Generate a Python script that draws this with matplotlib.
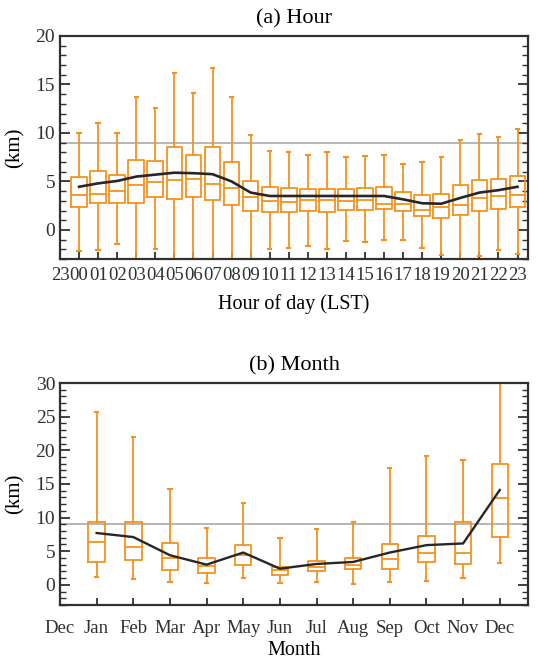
import matplotlib
matplotlib.use("Agg")
import matplotlib.pyplot as plt
from matplotlib.ticker import MultipleLocator
import numpy as np

plt.rcParams['font.family'] = ['Liberation Serif', 'DejaVu Serif']

# hourly stats (km)
hour_labels = ['23'] + ['%02d' % h for h in range(24)]
hour_whishi = [10.0, 11.0, 10.0, 13.7, 12.6, 16.2, 14.1, 16.7, 13.7, 9.8, 8.1, 8.0,
               7.7, 8.0, 7.5, 7.6, 7.7, 6.8, 7.0, 7.5, 9.3, 9.9, 9.6, 10.4]
hour_q3 = [5.5, 6.1, 5.7, 7.2, 7.1, 8.5, 7.7, 8.5, 7.0, 5.0, 4.4, 4.3,
           4.2, 4.2, 4.2, 4.3, 4.4, 3.9, 3.6, 3.7, 4.6, 5.1, 5.2, 5.6]
hour_med = [3.6, 3.7, 4.0, 4.6, 4.9, 5.1, 5.2, 4.7, 4.3, 3.4, 3.0, 2.9,
            3.1, 3.1, 3.0, 3.1, 2.7, 2.7, 2.1, 2.4, 2.6, 3.3, 3.5, 3.6]
hour_q1 = [2.4, 2.8, 2.8, 2.8, 3.4, 3.2, 3.4, 3.1, 2.6, 1.9, 1.8, 1.8,
           1.9, 1.8, 2.1, 2.1, 2.2, 1.9, 1.4, 1.2, 1.5, 2.0, 2.2, 2.4]
hour_whislo = [-2.2, -2.1, -1.5, -3.5, -2.0, -3.5, -3.0, -3.5, -3.5, -3.2, -2.0, -1.9,
               -1.7, -2.0, -1.1, -1.2, -1.0, -1.0, -1.9, -2.6, -3.5, -2.7, -2.1, -2.5]
hour_mean = [4.45, 4.8, 5.05, 5.5, 5.7, 5.9, 5.85, 5.75, 5.0, 3.85, 3.5, 3.5,
             3.5, 3.5, 3.5, 3.5, 3.5, 3.15, 2.75, 2.7, 3.3, 3.85, 4.1, 4.45]

# monthly stats (km)
month_labels = ['Dec', 'Jan', 'Feb', 'Mar', 'Apr', 'May', 'Jun', 'Jul', 'Aug',
                'Sep', 'Oct', 'Nov', 'Dec']
month_whishi = [25.7, 21.9, 14.3, 8.4, 12.1, 6.9, 8.3, 9.3, 17.3, 19.1, 18.6, 31.5]
month_q3 = [9.4, 9.3, 6.2, 4.0, 5.9, 2.7, 3.6, 4.0, 6.1, 7.3, 9.4, 18.0]
month_med = [6.4, 5.6, 4.0, 2.8, 4.4, 2.2, 2.7, 3.0, 3.9, 4.7, 4.7, 12.9]
month_q1 = [3.4, 3.7, 2.2, 1.8, 2.9, 1.5, 2.0, 2.3, 2.3, 3.4, 3.1, 7.1]
month_whislo = [1.1, 0.8, 0.45, 0.3, 1.0, 0.2, 0.35, 0.1, 0.45, 0.6, 1.0, 3.2]
month_mean = [7.7, 7.1, 4.4, 3.0, 4.8, 2.4, 3.1, 3.4, 4.8, 5.9, 6.15, 14.1]

orange = '#f5921e'
dark = '#262626'


def stats(lo, q1, med, q3, hi):
    return [dict(whislo=a, q1=b, med=c, q3=d, whishi=e, fliers=[])
            for a, b, c, d, e in zip(lo, q1, med, q3, hi)]


def style_axis(ax, xpad):
    for s in ax.spines.values():
        s.set_linewidth(1.6)
        s.set_color('#303030')
    ax.tick_params(axis='y', which='both', direction='in', left=True, right=True,
                   labelsize=14, colors='#303030', labelcolor='#303030')
    ax.tick_params(axis='y', which='major', length=7, width=1.3)
    ax.tick_params(axis='y', which='minor', length=4, width=1.0)
    ax.tick_params(axis='x', which='major', direction='in', length=5, width=1.3,
                   top=False, labelsize=13.5, pad=xpad, colors='#303030',
                   labelcolor='#303030')
    ax.yaxis.set_minor_locator(MultipleLocator(1))


fig = plt.figure(figsize=(5.38, 6.6), dpi=100)

box_kw = dict(patch_artist=False, showfliers=False, manage_ticks=False,
              boxprops=dict(color=orange, linewidth=1.3),
              whiskerprops=dict(color=orange, linewidth=1.3),
              capprops=dict(color=orange, linewidth=1.5),
              medianprops=dict(color=orange, linewidth=1.3))

# (a) Hour
ax1 = fig.add_axes([60 / 538, 1 - 259 / 660, 468 / 538, 223 / 660])
xh = np.arange(24)
ax1.axhline(9, color='#b0b0b0', linewidth=1.3, zorder=1)
ax1.bxp(stats(hour_whislo, hour_q1, hour_med, hour_q3, hour_whishi),
        positions=xh, widths=0.82, capwidths=0.18, **box_kw)
ax1.plot(xh, hour_mean, color=dark, linewidth=1.9, zorder=5)
ax1.set_xlim(-1, 23.55)
ax1.set_ylim(-3, 20)
ax1.set_xticks(np.arange(-1, 24))
ax1.set_xticklabels(hour_labels)
ax1.yaxis.set_major_locator(MultipleLocator(5))
style_axis(ax1, 6)
ax1.set_title('(a) Hour', fontsize=16, pad=9)
ax1.set_xlabel('Hour of day (LST)', fontsize=14.5, labelpad=7)
ax1.set_ylabel('(km)', fontsize=15, labelpad=8)

# (b) Month
ax2 = fig.add_axes([60 / 538, 1 - 605 / 660, 468 / 538, 222 / 660])
xm = np.arange(1, 13)
ax2.axhline(9, color='#b0b0b0', linewidth=1.3, zorder=1)
ax2.bxp(stats(month_whislo, month_q1, month_med, month_q3, month_whishi),
        positions=xm, widths=0.45, capwidths=0.09, **box_kw)
ax2.plot(xm, month_mean, color=dark, linewidth=1.7, zorder=5)
ax2.set_xlim(0, 12.77)
ax2.set_ylim(-3, 30)
ax2.set_xticks(np.arange(0, 13))
ax2.set_xticklabels(month_labels)
ax2.yaxis.set_major_locator(MultipleLocator(5))
style_axis(ax2, 11)
ax2.set_title('(b) Month', fontsize=16, pad=9)
ax2.set_xlabel('Month', fontsize=14.5, labelpad=3)
ax2.set_ylabel('(km)', fontsize=15, labelpad=8)

fig.savefig('out.png', dpi=100)
